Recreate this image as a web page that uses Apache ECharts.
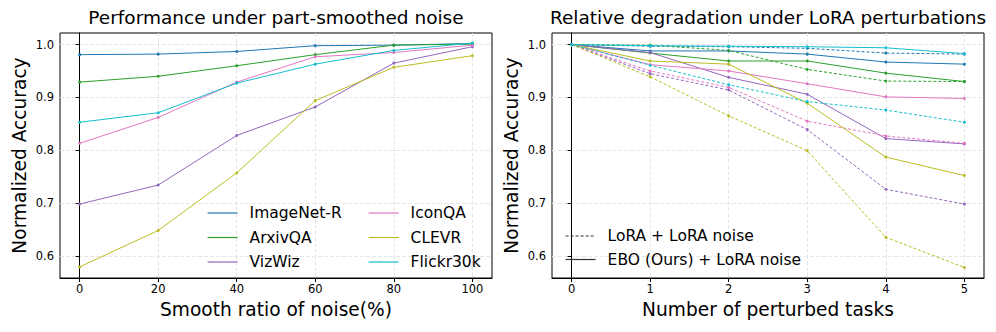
<!DOCTYPE html>
<html>
<head>
<meta charset="utf-8">
<script src="https://cdn.jsdelivr.net/npm/echarts@6/dist/echarts.min.js"></script>
<style>
  html, body { margin: 0; padding: 0; background: #fff; }
  #chart { width: 996px; height: 332px; }
</style>
</head>
<body>
<div id="chart"></div>
<script>
// left panel: smoothing ratio
const smoothRatio = [0, 20, 40, 60, 80, 100]
const imagenetSmooth = [0.981, 0.982, 0.987, 0.998, 0.999, 1.002]
const arxivSmooth = [0.929, 0.940, 0.960, 0.981, 0.999, 1.001]
const vizwizSmooth = [0.698, 0.734, 0.828, 0.882, 0.965, 0.996]
const iconqaSmooth = [0.813, 0.862, 0.929, 0.977, 0.985, 0.999]
const clevrSmooth = [0.579, 0.648, 0.757, 0.894, 0.957, 0.979]
const flickrSmooth = [0.853, 0.871, 0.927, 0.963, 0.989, 1.003]

// right panel: number of perturbed tasks
const tasks = [0, 1, 2, 3, 4, 5]
const imagenetEbo = [1.0, 0.988, 0.988, 0.982, 0.967, 0.963]
const arxivEbo = [1.0, 0.984, 0.969, 0.969, 0.946, 0.930]
const vizwizEbo = [1.0, 0.985, 0.938, 0.906, 0.822, 0.812]
const iconqaEbo = [1.0, 0.962, 0.950, 0.926, 0.901, 0.898]
const clevrEbo = [1.0, 0.969, 0.963, 0.889, 0.787, 0.752]
const flickrEbo = [1.0, 0.998, 0.997, 0.996, 0.994, 0.983]

const imagenetLora = [1.0, 0.997, 0.996, 0.993, 0.984, 0.982]
const arxivLora = [1.0, 0.999, 0.989, 0.953, 0.931, 0.930]
const vizwizLora = [1.0, 0.945, 0.914, 0.839, 0.726, 0.698]
const iconqaLora = [1.0, 0.950, 0.919, 0.855, 0.827, 0.813]
const clevrLora = [1.0, 0.939, 0.865, 0.799, 0.635, 0.578]
const flickrLora = [1.0, 0.961, 0.924, 0.892, 0.876, 0.853]

const yTicks = [0.6, 0.7, 0.8, 0.9, 1.0]
const smoothTicks = [0, 20, 40, 60, 80, 100]
const taskTicks = [0, 1, 2, 3, 4, 5]

const datasets = ['ImageNet-R', 'ArxivQA', 'VizWiz', 'IconQA', 'CLEVR', 'Flickr30k']
const colors = ['#1f77b4', '#2ca02c', '#9467bd', '#e377c2', '#bcbd22', '#17becf']

const FONT = 'DejaVu Sans'

function zip (xs, ys) {
  return xs.map((x, i) => [x, ys[i]])
}

function lineSeries (name, xs, ys, color, idx, dashed) {
  return {
    name: name,
    type: 'line',
    xAxisIndex: idx,
    yAxisIndex: idx,
    data: zip(xs, ys),
    symbol: 'circle',
    symbolSize: 3,
    showSymbol: true,
    itemStyle: { color: color },
    lineStyle: { color: color, width: 1, type: dashed ? [3, 2] : 'solid' },
    emphasis: { disabled: true },
    animation: false
  }
}

function xAxisOf (idx, min, max, ticks, name) {
  return {
    type: 'value',
    gridIndex: idx,
    min: min,
    max: max,
    name: name,
    nameLocation: 'middle',
    nameGap: 22,
    nameTextStyle: { fontFamily: FONT, fontSize: 18.6, color: '#000' },
    axisLine: { show: true, onZero: false, lineStyle: { color: '#000', width: 1 } },
    axisTick: { show: true, length: 4, customValues: ticks, lineStyle: { color: '#000' } },
    axisLabel: { customValues: ticks, margin: 5, fontFamily: FONT, fontSize: 11.5, color: '#000' },
    splitLine: { show: true, lineStyle: { color: '#e6e6e6', type: [4, 2] } }
  }
}

function yAxisOf (idx) {
  return {
    type: 'value',
    gridIndex: idx,
    min: 0.558,
    max: 1.022,
    name: 'Normalized Accuracy',
    nameLocation: 'middle',
    nameGap: 31,
    nameTextStyle: { fontFamily: FONT, fontSize: 18.6, color: '#000' },
    axisLine: { show: true, lineStyle: { color: '#000', width: 1 } },
    axisTick: { show: true, length: 4, customValues: yTicks, lineStyle: { color: '#000' } },
    axisLabel: {
      customValues: yTicks,
      margin: 6,
      fontFamily: FONT,
      fontSize: 11.5,
      color: '#000',
      formatter: v => v.toFixed(1)
    },
    splitLine: { show: true, lineStyle: { color: '#e6e6e6', type: [4, 2] } }
  }
}

const smoothSeriesData = [imagenetSmooth, arxivSmooth, vizwizSmooth, iconqaSmooth, clevrSmooth, flickrSmooth]
const eboData = [imagenetEbo, arxivEbo, vizwizEbo, iconqaEbo, clevrEbo, flickrEbo]
const loraData = [imagenetLora, arxivLora, vizwizLora, iconqaLora, clevrLora, flickrLora]

const series = []
datasets.forEach((name, i) => {
  series.push(lineSeries(name, smoothRatio, smoothSeriesData[i], colors[i], 0, false))
})
datasets.forEach((name, i) => {
  series.push(lineSeries(name + ' LoRA', tasks, loraData[i], colors[i], 1, true))
  series.push(lineSeries(name + ' EBO', tasks, eboData[i], colors[i], 1, false))
})
// proxy entries for the right-hand legend (no data, legend only)
const proxyDashed = lineSeries('LoRA + LoRA noise', tasks, [], '#333', 1, true)
proxyDashed.symbol = 'none'
const proxySolid = lineSeries('EBO (Ours) + LoRA noise', tasks, [], '#333', 1, false)
proxySolid.symbol = 'none'
series.push(proxyDashed, proxySolid)

const legendBase = {
  orient: 'vertical',
  itemWidth: 30,
  itemHeight: 14,
  itemGap: 8.5,
  padding: 0,
  selectedMode: false,
  textStyle: { fontFamily: FONT, fontSize: 15.5, color: '#000', padding: [0, 0, 0, 7] },
  itemStyle: { opacity: 0 },
  lineStyle: { width: 1.2 }
}

const chart = echarts.init(document.getElementById('chart'), null, { renderer: 'svg' })
chart.setOption({
  animation: false,
  backgroundColor: '#fff',
  title: [
    { text: 'Performance under part-smoothed noise', left: 276, top: 8, textAlign: 'center', padding: 0,
      textStyle: { fontFamily: FONT, fontSize: 18.5, fontWeight: 'normal', color: '#000' } },
    { text: 'Relative degradation under LoRA perturbations', left: 768, top: 8, textAlign: 'center', padding: 0,
      textStyle: { fontFamily: FONT, fontSize: 18.5, fontWeight: 'normal', color: '#000' } }
  ],
  grid: [
    { left: 60, top: 33, width: 432, height: 245, show: true, borderColor: '#000', borderWidth: 1 },
    { left: 552, top: 33, width: 432, height: 245, show: true, borderColor: '#000', borderWidth: 1 }
  ],
  xAxis: [
    xAxisOf(0, -5, 105, smoothTicks, 'Smooth ratio of noise(%)'),
    xAxisOf(1, -0.25, 5.25, taskTicks, 'Number of perturbed tasks')
  ],
  yAxis: [yAxisOf(0), yAxisOf(1)],
  legend: [
    Object.assign({}, legendBase, { left: 207, top: 205, data: ['ImageNet-R', 'ArxivQA', 'VizWiz'] }),
    Object.assign({}, legendBase, { left: 368, top: 205, data: ['IconQA', 'CLEVR', 'Flickr30k'] }),
    Object.assign({}, legendBase, { left: 565, top: 228, itemGap: 7.5, data: ['LoRA + LoRA noise', 'EBO (Ours) + LoRA noise'] })
  ],
  series: series
})
</script>
</body>
</html>
